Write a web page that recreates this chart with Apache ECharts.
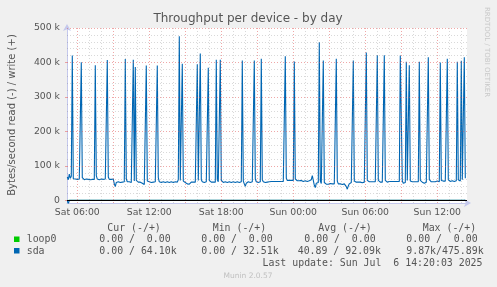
<!DOCTYPE html>
<html><head><meta charset="utf-8">
<script src="https://cdn.jsdelivr.net/npm/echarts@6/dist/echarts.min.js"></script>
<style>html,body{margin:0;padding:0;background:#f0f0f0}#c{width:497px;height:287px}</style>
</head><body><div id="c"></div>
<script>
// ---- data ----
const firstSampleHour = 5 + 10/60;   // Sat 05:10
const sampleStepHour = 5/60;        // 5-minute samples
const writeK = [
 68,60,76,64,70,420,63,61,62,60,
 61,60,62,61,401,66,61,60,61,62,
 60,61,61,60,62,61,60,61,392,72,
 62,61,60,61,62,60,61,60,62,61,
 407,68,61,60,61,60,62,48,40,52,
 53,54,53,52,54,53,52,54,410,62,
 54,53,54,53,52,53,408,56,387,58,
 54,53,52,53,54,50,47,46,51,391,
 56,53,54,53,52,54,53,52,54,53,
 391,66,54,53,52,53,54,53,52,53,
 54,53,52,53,54,53,52,53,54,52,
 53,60,476,58,54,396,56,53,52,54,
 48,44,47,52,53,54,53,52,53,54,
 395,58,54,426,60,54,53,52,53,54,
 53,385,58,54,53,52,53,54,53,408,
 60,54,53,408,58,53,52,53,54,53,
 52,53,54,53,52,53,54,53,52,53,
 54,53,52,53,54,406,56,48,41,50,
 53,54,53,52,53,54,53,406,62,54,
 53,52,53,54,411,60,54,53,52,54,
 53,52,54,53,55,54,55,54,55,56,
 55,54,55,56,55,54,55,56,418,64,
 58,57,58,57,58,57,58,403,62,58,
 57,58,57,56,58,57,55,58,57,56,
 55,58,57,56,60,72,58,44,37,50,
 55,52,459,56,49,48,406,52,48,47,
 48,47,48,49,47,48,47,48,49,411,
 56,48,47,48,47,46,47,48,45,40,
 32.5,42,48,50,52,51,406,56,52,53,
 52,53,52,53,52,51,52,53,52,429,
 58,53,54,53,54,53,54,53,54,53,
 421,58,54,53,54,53,54,421,58,54,
 53,54,55,54,55,54,55,54,55,54,
 55,54,55,420,421,56,50,51,52,402,
 58,54,392,56,53,54,53,54,55,54,
 53,54,402,58,54,53,54,50,51,53,
 54,415,60,55,54,55,54,55,54,55,
 56,55,54,400,58,55,56,55,56,55,
 411,60,56,55,56,57,56,55,56,57,
 402,60,57,56,405,60,57,415,64.1
];
const readIdx = [1, 253];
const readK = [9.87, 3.0];
const xTicks = [6, 12, 18, 24, 30, 36];
const xTickLabels = ['Sat 06:00','Sat 12:00','Sat 18:00','Sun 00:00','Sun 06:00','Sun 12:00'];
const yTicks = [0, 100, 200, 300, 400, 500];
const yTickLabels = ['0','100 k','200 k','300 k','400 k','500 k'];
const legendHeader = ['Cur (-/+)','Min (-/+)','Avg (-/+)','Max (-/+)'];
const loop0Stats = ['0.00 /  0.00','0.00 /  0.00','0.00 /  0.00','0.00 /  0.00'];
const sdaStats = ['0.00 / 64.10k','0.00 / 32.51k','40.89 / 92.09k','9.87k/475.89k'];
const titleText = 'Throughput per device - by day';
const yName = 'Bytes/second read (-) / write (+)';
const lastUpdate = 'Last update: Sun Jul  6 14:20:03 2025';

// ---- build ----
const tOf = i => firstSampleHour + i * sampleStepHour;
const writeData = writeK.map((v, i) => [tOf(i), v]);
const readData = writeK.map((_, i) => { const k = readIdx.indexOf(i); return [tOf(i), k >= 0 ? -readK[k] : 0]; });
const loopData = writeK.map((_, i) => [tOf(i), 0]);

const minorCol = 'rgba(128,128,128,0.30)', majorCol = 'rgba(224,80,80,0.50)';
const gl = [];
for (let h = 6; h <= 38; h++) gl.push({xAxis: h, lineStyle: {color: h % 3 === 0 ? majorCol : minorCol, type: [1,2], width: 1}});
for (let v = 0; v <= 500; v += 20) gl.push({yAxis: v, lineStyle: {color: v % 100 === 0 ? majorCol : minorCol, type: [1,2], width: 1}});

const mono = 'DejaVu Sans Mono', sans = 'DejaVu Sans';
const txtCol = '#555';
const graphics = [
  {type:'text', x:248, y:19, style:{text:titleText, font:'12px '+sans, fill:txtCol, align:'center', verticalAlign:'middle'}},
  {type:'text', x:12, y:115, rotation:Math.PI/2, style:{text:yName, font:'10px '+sans, fill:txtCol, align:'center', verticalAlign:'middle'}},
  {type:'text', x:487, y:52, rotation:-Math.PI/2, style:{text:'RRDTOOL / TOBI OETIKER', font:'7px '+sans, fill:'#c8c8c8', align:'center', verticalAlign:'middle'}},
  {type:'rect', shape:{x:14, y:236.5, width:5.5, height:5.5}, style:{fill:'#00cc00'}},
  {type:'rect', shape:{x:14, y:248, width:5.5, height:5.5}, style:{fill:'#0066b3'}},
  {type:'text', x:26.7, y:239.3, style:{text:'loop0', font:'9.9px '+mono, fill:txtCol, verticalAlign:'middle'}},
  {type:'text', x:26.7, y:251, style:{text:'sda', font:'9.9px '+mono, fill:txtCol, verticalAlign:'middle'}},
  {type:'text', x:482.5, y:263.7, style:{text:lastUpdate, font:'9.9px '+mono, fill:txtCol, align:'right', verticalAlign:'middle'}},
  {type:'text', x:248, y:276.3, style:{text:'Munin 2.0.57', font:'7.5px '+sans, fill:'#c0c0c0', align:'center', verticalAlign:'middle'}}
];
const hx = [107.3, 212.7, 318.3, 422.7];
const lx = [99.3, 201.3, 304.3, 406.3];
const sx = [99.3, 201.3, 297.7, 406.3];
legendHeader.forEach((t, k) => graphics.push({type:'text', x:hx[k], y:228.3, style:{text:t, font:'9.9px '+mono, fill:txtCol, verticalAlign:'middle'}}));
loop0Stats.forEach((t, k) => graphics.push({type:'text', x:lx[k], y:239.3, style:{text:t, font:'9.9px '+mono, fill:txtCol, verticalAlign:'middle'}}));
sdaStats.forEach((t, k) => graphics.push({type:'text', x:sx[k], y:251, style:{text:t, font:'9.9px '+mono, fill:txtCol, verticalAlign:'middle'}}));

const axisCol = '#c4c8ec';
const chart = echarts.init(document.getElementById('c'), null, {renderer:'canvas'});
chart.setOption({
  animation: false,
  backgroundColor: '#f0f0f0',
  grid: {left:67, top:28, width:400, height:175, show:true, backgroundColor:'#ffffff', borderWidth:0},
  xAxis: {type:'value', min:5.1425, max:38.475,
    axisLine:{onZero:false, lineStyle:{color:axisCol, width:1}, symbol:['none','arrow'], symbolSize:[6,7], symbolOffset:[0,4]},
    axisTick:{show:false}, splitLine:{show:false},
    axisLabel:{customValues:xTicks, formatter:v => xTickLabels[xTicks.indexOf(v)] || '', color:txtCol, fontFamily:sans, fontSize:9.3, margin:5}},
  yAxis: {type:'value', min:-7.5, max:500,
    axisLine:{show:true, lineStyle:{color:axisCol, width:1}, symbol:['none','arrow'], symbolSize:[6,7], symbolOffset:[0,4]},
    axisTick:{show:true, customValues:yTicks, length:2, lineStyle:{color:majorCol}}, splitLine:{show:false},
    axisLabel:{customValues:yTicks, formatter:v => yTickLabels[yTicks.indexOf(v)] || '', color:txtCol, fontFamily:sans, fontSize:9.3, margin:7}},
  graphic: graphics,
  series: [
    {name:'loop0', type:'line', data:loopData, symbol:'none', z:1, lineStyle:{color:'#00cc00', width:1},
     markLine:{silent:true, symbol:'none', label:{show:false}, animation:false, data:gl}},
    {name:'sda read', type:'line', data:readData, symbol:'none', z:3, lineStyle:{color:'#0066b3', width:1.1}},
    {name:'sda write', type:'line', data:writeData, symbol:'none', z:3, lineStyle:{color:'#0066b3', width:1.1},
     markLine:{silent:true, symbol:'none', label:{show:false}, animation:false, data:[{yAxis:0, lineStyle:{color:'#000', type:'solid', width:1}}]}}
  ]
});
</script></body></html>
